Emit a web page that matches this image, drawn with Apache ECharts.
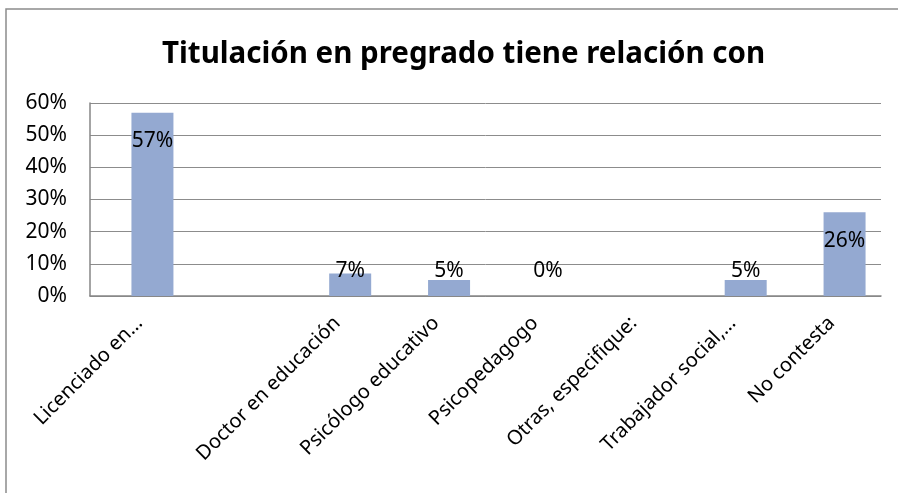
<!DOCTYPE html>
<html>
<head>
<meta charset="utf-8">
<script src="https://cdn.jsdelivr.net/npm/echarts@6/dist/echarts.min.js"></script>
<style>
  html, body { margin: 0; padding: 0; background: #fff; }
  #chart { width: 898px; height: 493px; }
</style>
</head>
<body>
<div id="chart"></div>
<script>
// 数据
var categories = ['Licenciado en…', '', 'Doctor en educación', 'Psicólogo educativo', 'Psicopedagogo', 'Otras, especifique:', 'Trabajador social,…', 'No contesta'];
var values = [57, null, 7, 5, 0, null, 5, 26];
var emptySeries = [null, null, null, null, null, null, null, null];
var yTicks = [0, 10, 20, 30, 40, 50, 60];

var font = 'Noto Sans';

var myChart = echarts.init(document.getElementById('chart'));

var barData = values.map(function (v) {
  if (v === null) return '-';
  return {
    value: v,
    label: v >= 20
      ? { position: 'insideTop', distance: 18 }
      : { position: 'insideBottom', distance: 14 }
  };
});

var option = {
  animation: false,
  backgroundColor: '#fff',
  textStyle: { fontFamily: font },
  title: {
    text: 'Titulación en pregrado tiene relación con',
    left: 157,
    top: 35,
    textStyle: { fontFamily: font, fontWeight: 'bold', fontSize: 29.5, color: '#000' }
  },
  // 外框（只有上边和左边可见）
  graphic: [
    {
      type: 'polyline',
      shape: { points: [[6, 1200], [6, 9], [1200, 9]] },
      style: { fill: 'none', stroke: '#8c8c8c', lineWidth: 1.5 },
      silent: true
    }
  ],
  grid: { left: 90, right: 17, top: 103, bottom: 197 },
  xAxis: {
    type: 'category',
    data: categories,
    axisLine: { lineStyle: { color: '#868686', width: 1.5 } },
    axisTick: { show: false },
    axisLabel: {
      interval: 0,
      rotate: 45,
      margin: 24,
      fontFamily: font,
      fontSize: 20,
      color: '#000'
    }
  },
  yAxis: {
    type: 'value',
    min: yTicks[0],
    max: yTicks[yTicks.length - 1],
    interval: 10,
    axisLine: { show: true, lineStyle: { color: '#868686', width: 1.5 } },
    axisTick: { show: false },
    splitLine: { lineStyle: { color: '#8c8c8c', width: 1 } },
    axisLabel: {
      formatter: '{value}%',
      margin: 23,
      fontFamily: font,
      fontSize: 21,
      color: '#000'
    }
  },
  series: [
    {
      // 空系列，让柱子偏右
      type: 'bar',
      data: emptySeries,
      barWidth: 26,
      barGap: '0%',
      silent: true
    },
    {
      type: 'bar',
      data: barData,
      barWidth: 42,
      itemStyle: { color: '#94a9d1' },
      label: {
        show: true,
        formatter: '{c}%',
        fontFamily: font,
        fontSize: 21,
        color: '#000'
      }
    }
  ]
};

myChart.setOption(option);
</script>
</body>
</html>
